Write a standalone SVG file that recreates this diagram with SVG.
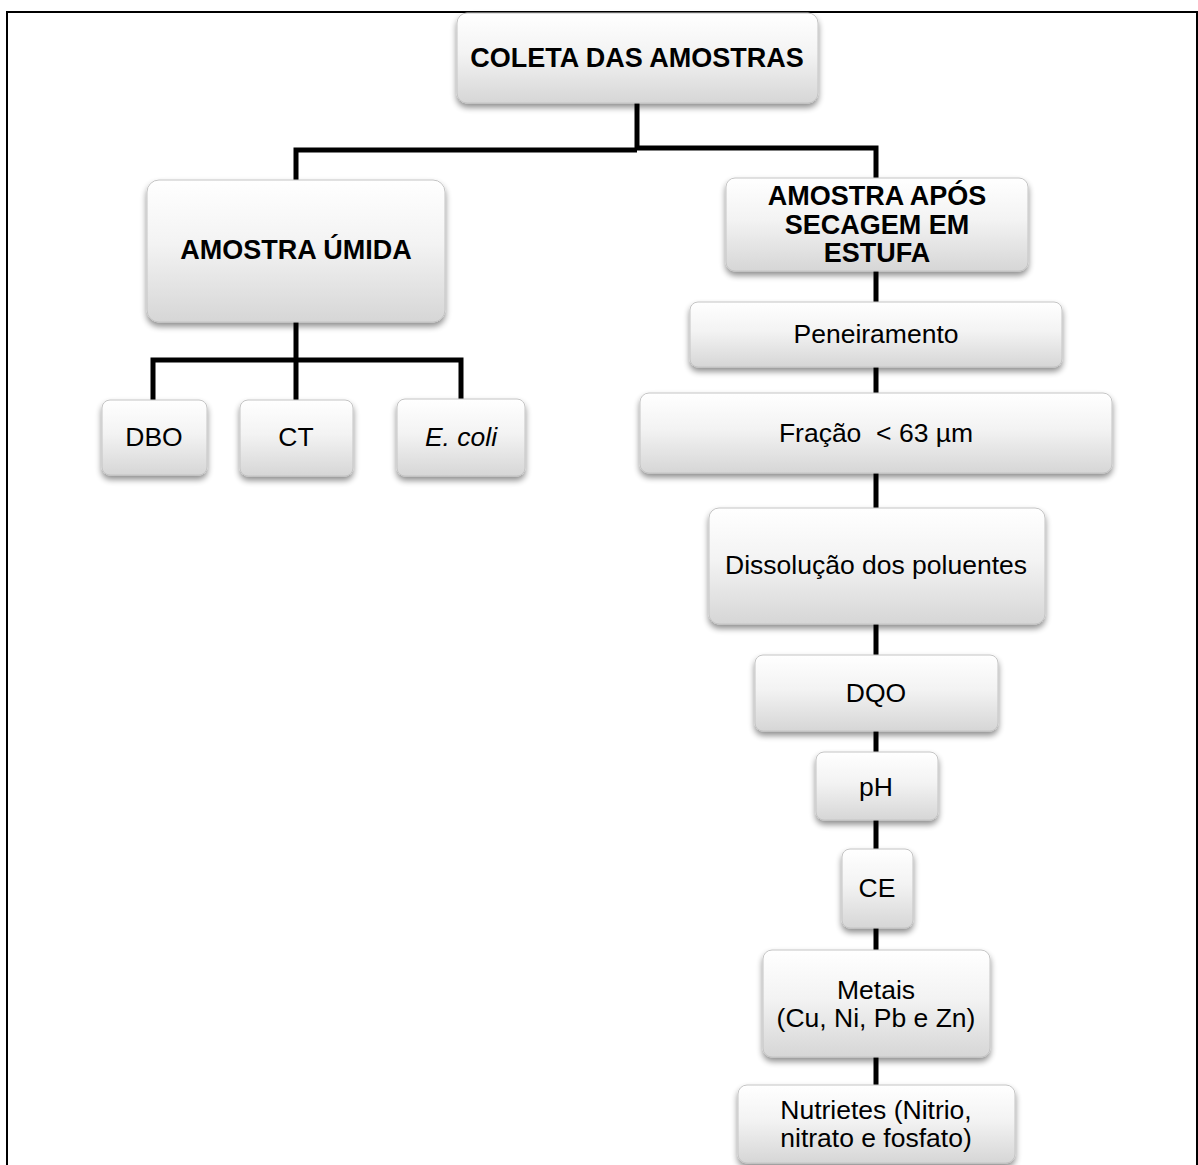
<svg xmlns="http://www.w3.org/2000/svg" width="1198" height="1165" viewBox="0 0 1198 1165">
<defs>
<linearGradient id="g" x1="0" y1="0" x2="0" y2="1">
<stop offset="0" stop-color="#ffffff"/>
<stop offset="0.45" stop-color="#f3f3f3"/>
<stop offset="1" stop-color="#d6d6d6"/>
</linearGradient>
<filter id="sh" x="-10%" y="-10%" width="120%" height="135%">
<feGaussianBlur in="SourceAlpha" stdDeviation="3"/>
<feOffset dx="0" dy="4" result="b"/>
<feComponentTransfer><feFuncA type="linear" slope="0.45"/></feComponentTransfer>
<feMerge><feMergeNode/><feMergeNode in="SourceGraphic"/></feMerge>
</filter>
</defs>
<style>
.box{fill:url(#g);stroke:#c4c4c4;stroke-width:1;filter:url(#sh)}
.t{font-family:"Liberation Sans",Arial,sans-serif;font-size:26.5px;fill:#000;text-anchor:middle}
.b{font-weight:bold;font-size:27px}
.c{stroke:#000;stroke-width:5;fill:none}
</style>
<rect width="1198" height="1165" fill="#fff"/>
<path d="M7,1165 V12 H1197 V1165" fill="none" stroke="#000" stroke-width="2"/>
<g id="connectors">
<path class="c" d="M637,103 V150"/>
<path class="c" d="M296,180 V150 H637"/>
<path class="c" d="M637,148 H876 V178"/>
<path class="c" d="M296,322 V400"/>
<path class="c" d="M153,400 V360 H461 V399"/>
<path class="c" d="M876,271 V950"/>
<path class="c" d="M876,1057 V1085"/>
</g>
<g id="coleta"><rect class="box" x="457" y="13" width="361" height="90" rx="10"/><text class="t b" x="637" y="67">COLETA DAS AMOSTRAS</text></g>
<g id="umida"><rect class="box" x="147" y="180" width="298" height="142" rx="12"/><text class="t b" x="296" y="259">AMOSTRA ÚMIDA</text></g>
<g id="dbo"><rect class="box" x="102" y="400" width="105" height="75" rx="8"/><text class="t" x="154" y="446">DBO</text></g>
<g id="ct"><rect class="box" x="240" y="400" width="113" height="76" rx="8"/><text class="t" x="296" y="446">CT</text></g>
<g id="ecoli"><rect class="box" x="397" y="399" width="128" height="77" rx="8"/><text class="t" x="461" y="446" font-style="italic">E. coli</text></g>
<g id="secagem"><rect class="box" x="726" y="178" width="302" height="93" rx="9"/><text class="t b" x="877" y="205">AMOSTRA APÓS</text><text class="t b" x="877" y="234">SECAGEM EM</text><text class="t b" x="877" y="262">ESTUFA</text></g>
<g id="peneiramento"><rect class="box" x="690" y="302" width="372" height="65" rx="8"/><text class="t" x="876" y="343">Peneiramento</text></g>
<g id="fracao"><rect class="box" x="640" y="393" width="472" height="80" rx="9"/><text class="t" x="876" y="442" xml:space="preserve">Fração  &lt; 63 µm</text></g>
<g id="dissolucao"><rect class="box" x="709" y="508" width="336" height="116" rx="10"/><text class="t" x="876" y="574">Dissolução dos poluentes</text></g>
<g id="dqo"><rect class="box" x="755" y="655" width="243" height="76" rx="8"/><text class="t" x="876" y="702">DQO</text></g>
<g id="ph"><rect class="box" x="816" y="752" width="122" height="68" rx="8"/><text class="t" x="876" y="796">pH</text></g>
<g id="ce"><rect class="box" x="842" y="849" width="71" height="79" rx="8"/><text class="t" x="877" y="897">CE</text></g>
<g id="metais"><rect class="box" x="763" y="950" width="227" height="107" rx="9"/><text class="t" x="876" y="999">Metais</text><text class="t" x="876" y="1027">(Cu, Ni, Pb e Zn)</text></g>
<g id="nutrientes"><rect class="box" x="738" y="1085" width="277" height="78" rx="9"/><text class="t" x="876" y="1119">Nutrietes (Nitrio,</text><text class="t" x="876" y="1147">nitrato e fosfato)</text></g>
</svg>
